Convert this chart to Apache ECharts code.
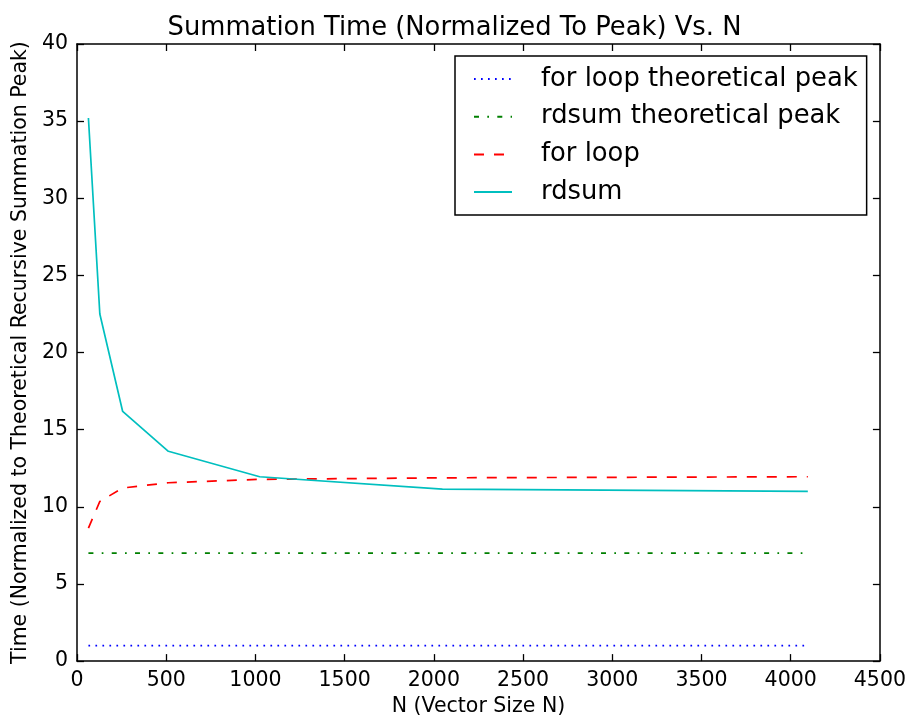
<!DOCTYPE html>
<html>
<head>
<meta charset="utf-8">
<script src="https://cdn.jsdelivr.net/npm/echarts@6/dist/echarts.min.js"></script>
<style>html,body{margin:0;padding:0;background:#fff}#c{width:909px;height:722px}</style>
</head>
<body>
<div id="c"></div>
<script>
const nValues = [64, 128, 256, 512, 1024, 2048, 4096];
const forLoopPeak = [1, 1, 1, 1, 1, 1, 1];
const rdsumPeak = [7, 7, 7, 7, 7, 7, 7];
const forLoopTimes = [8.62, 10.35, 11.22, 11.56, 11.78, 11.88, 11.95];
const rdsumTimes = [35.2, 22.5, 16.18, 13.6, 11.95, 11.15, 11.0];
const xTicks = [0, 500, 1000, 1500, 2000, 2500, 3000, 3500, 4000, 4500];
const yTicks = [0, 5, 10, 15, 20, 25, 30, 35, 40];

const FONT = 'DejaVu Sans';
const pairs = ys => nValues.map((n, i) => [n, ys[i]]);

const axisLine = { show: true, onZero: false, lineStyle: { color: '#000', width: 1.5 } };
const tickIn = { show: true, inside: true, length: 7, lineStyle: { color: '#000', width: 1.3 } };

const chart = echarts.init(document.getElementById('c'), null, { renderer: 'canvas' });
chart.setOption({
  animation: false,
  backgroundColor: '#fff',
  title: {
    text: 'Summation Time (Normalized To Peak) Vs. N',
    left: 'center', top: 10,
    textStyle: { fontFamily: FONT, fontSize: 25.8, fontWeight: 'normal', color: '#000' }
  },
  grid: { left: 77, right: 29, top: 44, bottom: 57 },
  legend: {
    orient: 'vertical',
    left: 455, top: 56,
    padding: [10, 9, 10, 18],
    itemGap: 11.7,
    itemWidth: 38, itemHeight: 25,
    borderColor: '#000', borderWidth: 1.5,
    backgroundColor: '#fff',
    itemStyle: { opacity: 0 },
    textStyle: { fontFamily: FONT, fontSize: 25.8, color: '#000', padding: [0, 0, 0, 24] },
    data: ['for loop theoretical peak', 'rdsum theoretical peak', 'for loop', 'rdsum']
  },
  xAxis: [{
    type: 'value', min: 0, max: 4500, interval: 500,
    name: 'N (Vector Size N)', nameLocation: 'middle', nameGap: 32,
    nameTextStyle: { fontFamily: FONT, fontSize: 20.5, color: '#000' },
    axisLine, axisTick: tickIn, splitLine: { show: false },
    axisLabel: { fontFamily: FONT, fontSize: 20.5, color: '#000', margin: 9,
      formatter: v => xTicks.includes(v) ? String(v) : '' }
  }, {
    type: 'value', position: 'top', min: 0, max: 4500, interval: 500,
    axisLine, axisTick: tickIn, splitLine: { show: false }, axisLabel: { show: false }
  }],
  yAxis: [{
    type: 'value', min: 0, max: 40, interval: 5,
    name: 'Time (Normalized to Theoretical Recursive Summation Peak)',
    nameLocation: 'middle', nameGap: 46,
    nameTextStyle: { fontFamily: FONT, fontSize: 20.5, color: '#000' },
    axisLine, axisTick: tickIn, splitLine: { show: false },
    axisLabel: { fontFamily: FONT, fontSize: 20.5, color: '#000', margin: 9,
      formatter: v => yTicks.includes(v) ? String(v) : '' }
  }, {
    type: 'value', position: 'right', min: 0, max: 40, interval: 5,
    axisLine, axisTick: tickIn, splitLine: { show: false }, axisLabel: { show: false }
  }],
  series: [{
    name: 'for loop theoretical peak', type: 'line', data: pairs(forLoopPeak),
    symbol: 'none', color: '#0000ff',
    lineStyle: { color: '#0000ff', width: 1.7, type: [1.7, 5.3] }
  }, {
    name: 'rdsum theoretical peak', type: 'line', data: pairs(rdsumPeak),
    symbol: 'none', color: '#008000',
    lineStyle: { color: '#008000', width: 1.7, type: [5, 8.3, 1.7, 8.3] }
  }, {
    name: 'for loop', type: 'line', data: pairs(forLoopTimes),
    symbol: 'none', color: '#ff0000',
    lineStyle: { color: '#ff0000', width: 1.7, type: [10, 10] }
  }, {
    name: 'rdsum', type: 'line', data: pairs(rdsumTimes),
    symbol: 'none', color: '#00bfbf',
    lineStyle: { color: '#00bfbf', width: 1.7, type: 'solid' }
  }]
});
</script>
</body>
</html>
